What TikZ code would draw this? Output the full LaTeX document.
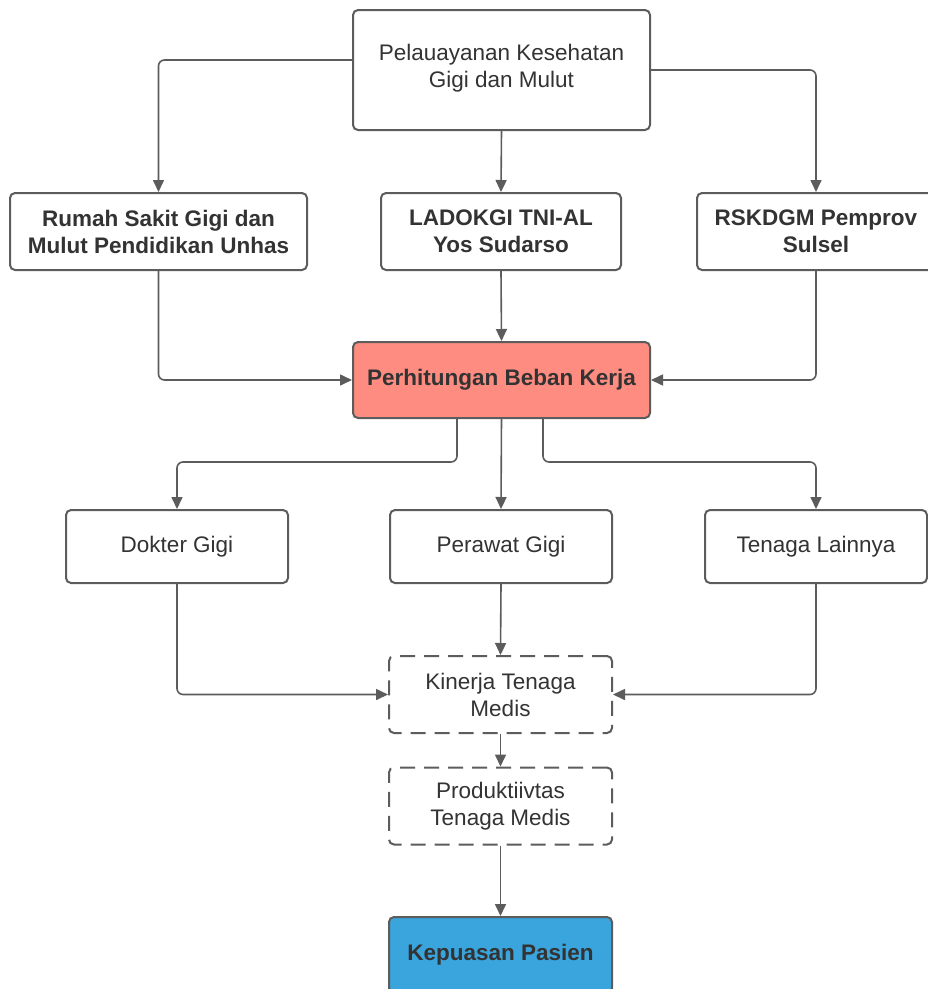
\documentclass[tikz,border=0pt]{standalone}
\usepackage{fontspec}
\setmainfont{Liberation Sans}
\usetikzlibrary{arrows.meta}
\definecolor{edge}{HTML}{5C5C5C}
\definecolor{txt}{HTML}{333333}
\definecolor{salmon}{HTML}{FF8C80}
\definecolor{skyb}{HTML}{3AA4DC}
\tikzset{
  box/.style={draw=edge, line width=2pt, rounded corners=5pt, rectangle, inner sep=0pt,
    align=center, text=txt, font=\fontsize{22.5}{27}\selectfont},
  boldbox/.style={box, font=\fontsize{22.5}{27}\selectfont\bfseries},
  dashbox/.style={box, dash pattern=on 15pt off 9pt},
  plain/.style={inner sep=0pt, align=center, text=txt, font=\fontsize{22.5}{27}\selectfont},
  conn/.style={draw=edge, line width=1.6pt, rounded corners=6pt,
    -{Triangle[length=12pt,width=11pt]}},
}
\begin{document}
\begin{tikzpicture}[x=1pt,y=-1pt]
\useasboundingbox (0,0) rectangle (928,989);
\clip (0,0) rectangle (928,989);
\fill[white] (0,0) rectangle (928,989);

\node[box, minimum width=297pt, minimum height=120pt] (top) at (501.5,70) {};
\node[plain] (toptxt) at (501.5,68) {Pelauayanan Kesehatan\\Gigi dan Mulut};
\node[boldbox, minimum width=297pt, minimum height=77pt] (rs) at (158.5,231.5) {Rumah Sakit Gigi dan\\Mulut Pendidikan Unhas};
\node[boldbox, minimum width=240pt, minimum height=77pt] (lad) at (501,231.5) {LADOKGI TNI-AL\\Yos Sudarso};
\node[boldbox, minimum width=238pt, minimum height=77pt] (rsk) at (816,231.5) {RSKDGM Pemprov\\Sulsel};
\node[boldbox, fill=salmon, minimum width=297pt, minimum height=76pt] (pbk) at (501.5,380) {Perhitungan Beban Kerja};
\node[box, minimum width=222pt, minimum height=73pt] (dok) at (177,546.5) {Dokter Gigi};
\node[box, minimum width=222pt, minimum height=73pt] (per) at (501,546.5) {Perawat Gigi};
\node[box, minimum width=222pt, minimum height=73pt] (ten) at (816,546.5) {Tenaga Lainnya};
\node[dashbox, minimum width=223pt, minimum height=77pt] (kin) at (500.5,694.5) {Kinerja Tenaga\\Medis};
\node[dashbox, minimum width=223pt, minimum height=77pt] (pro) at (500.5,806) {Produktiivtas\\Tenaga Medis};
\node[boldbox, fill=skyb, minimum width=223pt, minimum height=76pt] (kep) at (500.5,955) {Kepuasan Pasien};

\coordinate (tl) at (353,60);
\coordinate (j1) at (457,462);
\coordinate (j2) at (543,462);

\draw[conn] (tl) -| (rs.north);
\draw[conn] (top.east) -| (rsk.north);
\draw[conn] (top.south) -- (lad.north);
\draw[conn] (rs.south) |- (pbk.west);
\draw[conn] (lad.south) -- (pbk.north);
\draw[conn] (rsk.south) |- (pbk.east);
\draw[conn] (pbk.south -| j1) -- (j1) -| (dok.north);
\draw[conn] (pbk.south) -- (per.north);
\draw[conn] (pbk.south -| j2) -- (j2) -| (ten.north);
\draw[conn] (dok.south) |- (kin.west);
\draw[conn] (per.south) -- (kin.north);
\draw[conn] (ten.south) |- (kin.east);
\draw[conn] (kin.south) -- (pro.north);
\draw[conn] (pro.south) -- (kep.north);
\end{tikzpicture}
\end{document}
